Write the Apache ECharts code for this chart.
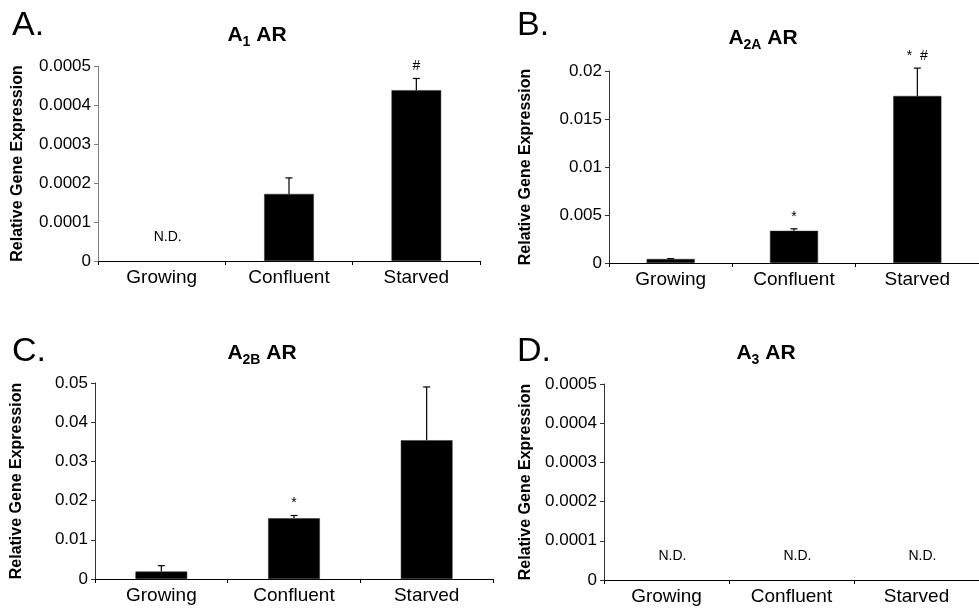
<!DOCTYPE html>
<html>
<head>
<meta charset="utf-8">
<script src="https://cdn.jsdelivr.net/npm/echarts@6/dist/echarts.min.js"></script>
<style>
html,body{margin:0;padding:0;background:#fff;}
#chart{width:979px;height:611px;}
</style>
</head>
<body>
<div id="chart"></div>
<script>
// ---- data ----
const categories = ['Growing', 'Confluent', 'Starved'];

const a1Values = [null, 0.000172, 0.000438];
const a1Errors = [null, 0.000041, 0.000030];
const a1Marks  = ['N.D.', '', '#'];

const a2aValues = [0.00042, 0.00335, 0.0174];
const a2aErrors = [0.00004, 0.00021, 0.0029];
const a2aMarks  = ['', '*', '*  #'];

const a2bValues = [0.0019, 0.0155, 0.0354];
const a2bErrors = [0.0015, 0.0007, 0.0136];
const a2bMarks  = ['', '*', ''];

const a3Values = [null, null, null];
const a3Errors = [null, null, null];
const a3Marks  = ['N.D.', 'N.D.', 'N.D.'];

const yTicksA1 = {max: 0.0005, interval: 0.0001};
const yTicksA2A = {max: 0.02, interval: 0.005};
const yTicksA2B = {max: 0.05, interval: 0.01};
const yTicksA3 = {max: 0.0005, interval: 0.0001};

// ---- layout ----
const FONT = '"Liberation Sans", Arial, Helvetica, sans-serif';
const panels = [
  {values: a1Values, errors: a1Errors, marks: a1Marks, ticks: yTicksA1,
   grid: {left: 98, top: 66, width: 382, height: 195}, yColor: '#808080', nameGap: 72},
  {values: a2aValues, errors: a2aErrors, marks: a2aMarks, ticks: yTicksA2A,
   grid: {left: 609, top: 71, width: 378, height: 192}, yColor: '#333', nameGap: 75},
  {values: a2bValues, errors: a2bErrors, marks: a2bMarks, ticks: yTicksA2B,
   grid: {left: 95, top: 383, width: 398, height: 196}, yColor: '#333', nameGap: 70},
  {values: a3Values, errors: a3Errors, marks: a3Marks, ticks: yTicksA3,
   grid: {left: 604, top: 384, width: 386, height: 196}, yColor: '#333', nameGap: 70}
];

function fmt(v) { return String(+v.toFixed(6)); }

const grids = [], xAxes = [], yAxes = [], series = [];
panels.forEach((p, k) => {
  grids.push(Object.assign({containLabel: false}, p.grid));
  xAxes.push({
    type: 'category', gridIndex: k, data: categories,
    axisLine: {lineStyle: {color: '#000', width: 1}},
    axisTick: {show: true, length: 4, lineStyle: {color: '#000'}},
    axisLabel: {fontFamily: FONT, fontSize: 19, color: '#000', margin: 7}
  });
  yAxes.push({
    type: 'value', gridIndex: k, min: 0, max: p.ticks.max, interval: p.ticks.interval,
    name: 'Relative Gene Expression', nameLocation: 'middle', nameGap: p.nameGap,
    nameTextStyle: {fontFamily: FONT, fontSize: 16, fontWeight: 'bold', color: '#000'},
    splitLine: {show: false},
    axisLine: {show: true, lineStyle: {color: p.yColor, width: 1}},
    axisTick: {show: true, length: 4, lineStyle: {color: p.yColor}},
    axisLabel: {fontFamily: FONT, fontSize: 17, color: '#000', margin: 7, formatter: fmt}
  });
  series.push({
    type: 'bar', xAxisIndex: k, yAxisIndex: k, barWidth: '39%',
    itemStyle: {color: '#000', borderColor: '#333', borderWidth: 0.5},
    data: p.values.map(v => v == null ? '-' : v),
    silent: true, animation: false
  });
  // error bars (upper whisker only)
  series.push({
    type: 'custom', xAxisIndex: k, yAxisIndex: k, animation: false, silent: true,
    data: p.values.map((v, i) => v == null ? [i, '-', '-'] : [i, v, v + p.errors[i]]),
    renderItem: function (params, api) {
      const v = api.value(1), t = api.value(2);
      if (isNaN(v) || isNaN(t)) return null;
      const b = api.coord([api.value(0), v]);
      const e = api.coord([api.value(0), t]);
      const cap = 3.5;
      return {
        type: 'group', children: [
          {type: 'line', shape: {x1: e[0], y1: b[1], x2: e[0], y2: e[1]}, style: {stroke: '#000', lineWidth: 1.2}},
          {type: 'line', shape: {x1: e[0] - cap, y1: e[1], x2: e[0] + cap, y2: e[1]}, style: {stroke: '#000', lineWidth: 1.2}}
        ]
      };
    }
  });
  // annotations (N.D., *, #)
  series.push({
    type: 'custom', xAxisIndex: k, yAxisIndex: k, animation: false, silent: true,
    data: p.values.map((v, i) => [i, v == null ? 0 : v + p.errors[i]]),
    renderItem: function (params, api) {
      const i = params.dataIndex;
      const txt = p.marks[i];
      if (!txt) return null;
      const pt = api.coord([api.value(0), api.value(1)]);
      const nd = p.values[i] == null;
      return {
        type: 'text',
        x: pt[0] + (nd ? 6 : 0),
        y: nd ? pt[1] - 24 : pt[1] - 5,
        style: {
          text: txt, fontFamily: FONT, fontSize: 14, fill: '#000',
          align: 'center', verticalAlign: nd ? 'middle' : 'bottom'
        }
      };
    }
  });
});

function titleText(x, y, sub) {
  return {
    type: 'text', x: x, y: y,
    style: {
      text: '{a|A}{s|' + sub + '}{a| AR}',
      align: 'center', verticalAlign: 'middle',
      rich: {
        a: {fontFamily: FONT, fontSize: 21, fontWeight: 'bold', fill: '#000', color: '#000', verticalAlign: 'bottom', padding: [0, 0, 4, 0]},
        s: {fontFamily: FONT, fontSize: 14, fontWeight: 'bold', fill: '#000', color: '#000', verticalAlign: 'bottom'}
      }
    }
  };
}
function letter(x, y, t) {
  return {type: 'text', x: x, y: y, style: {text: t, fontFamily: FONT, fontSize: 34, fill: '#000', align: 'left', verticalAlign: 'top'}};
}

const chart = echarts.init(document.getElementById('chart'), null, {renderer: 'canvas'});
chart.setOption({
  backgroundColor: '#fff',
  animation: false,
  grid: grids, xAxis: xAxes, yAxis: yAxes, series: series,
  graphic: [
    letter(12, 9, 'A.'), letter(517, 9, 'B.'), letter(12, 335, 'C.'), letter(517, 335, 'D.'),
    titleText(257, 37, '1'), titleText(763, 40, '2A'), titleText(262, 355, '2B'), titleText(766, 355, '3')
  ]
});
</script>
</body>
</html>
